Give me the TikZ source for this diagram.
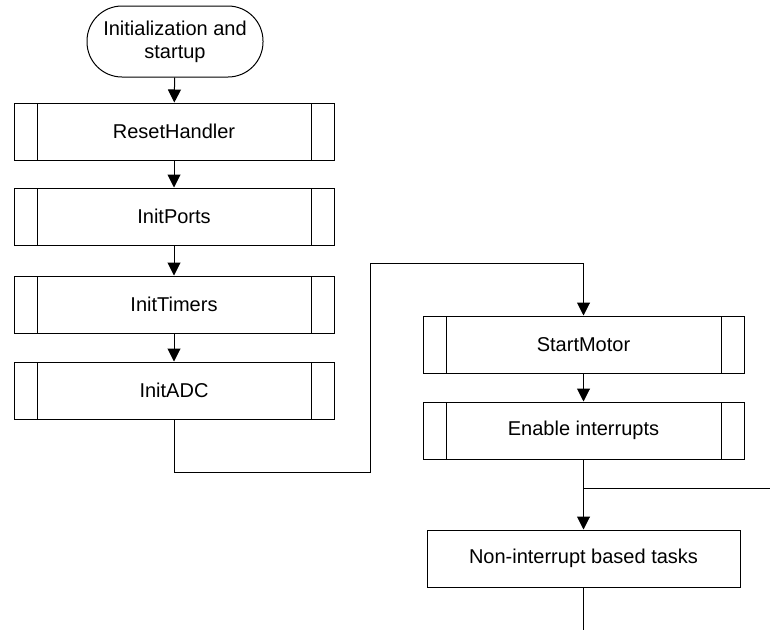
\documentclass[tikz,border=0pt]{standalone}
\usepackage{fontspec}
\setmainfont{Liberation Sans}
\usetikzlibrary{arrows.meta}
\begin{document}
\begin{tikzpicture}[x=1pt,y=-1pt,
  every node/.style={font=\fontsize{20}{23}\selectfont, inner sep=0pt},
  line/.style={draw=black, line width=1pt},
  arr/.style={line, -{Triangle[width=13pt,length=13pt]}},
  terminal/.style={line, rounded corners=35pt, minimum width=176pt, minimum height=71pt, align=center},
  plainbox/.style={line, minimum width=313pt, minimum height=57pt},
  predef/.style={line, minimum width=#1, minimum height=57pt,
    path picture={
      \draw[line width=1pt] ([xshift=23pt]path picture bounding box.north west) -- ([xshift=23pt]path picture bounding box.south west);
      \draw[line width=1pt] ([xshift=-23pt]path picture bounding box.north east) -- ([xshift=-23pt]path picture bounding box.south east);
    }},
  predef/.default=320pt]
\useasboundingbox (0,0) rectangle (770,629);

\node[terminal] (start) at (175,41.5) {Initialization and\\startup};
\node[predef] (reset) at (174,131.5) {ResetHandler};
\node[predef] (ports) at (174,216.5) {InitPorts};
\node[predef] (timers) at (174,304.5) {InitTimers};
\node[predef] (adc) at (174,390.5) {InitADC};
\node[predef=321pt] (sm) at (583.5,344.5) {StartMotor};
\node[predef=321pt] (en) at (583.5,430.5) {Enable interrupts};
\node[plainbox] (non) at (583.5,558.5) {Non-interrupt based tasks};

\coordinate (j0) at (370,472);
\coordinate (j1) at (370,263);
\coordinate (b) at (583.5,488);
\coordinate (bend) at (771,488);
\coordinate (bot) at (583.5,630);

\draw[arr] (start) -- (reset);
\draw[arr] (reset) -- (ports);
\draw[arr] (ports) -- (timers);
\draw[arr] (timers) -- (adc);
\draw[arr] (adc.south) |- (j0) -- (j1) -| (sm.north);
\draw[arr] (sm) -- (en);
\draw[arr] (en) -- (non);
\draw[line] (b) -- (bend);
\draw[line] (non) -- (bot);
\end{tikzpicture}
\end{document}
